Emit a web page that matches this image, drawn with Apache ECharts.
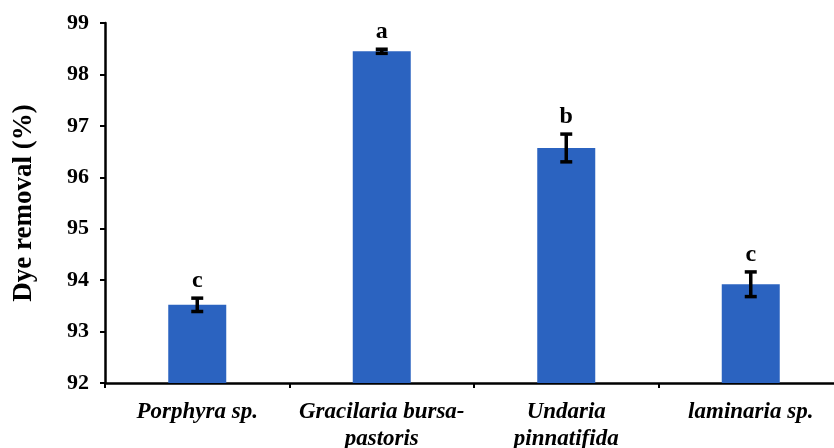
<!DOCTYPE html>
<html>
<head>
<meta charset="utf-8">
<script src="https://cdn.jsdelivr.net/npm/echarts@6/dist/echarts.min.js"></script>
<style>
  html, body { margin: 0; padding: 0; background: #fff; }
  #chart { width: 834px; height: 448px; }
</style>
</head>
<body>
<div id="chart"></div>
<script>
// Seaweed species tested as dye adsorbents
const species = ['Porphyra sp.', 'Gracilaria bursa-\npastoris', 'Undaria\npinnatifida', 'laminaria sp.'];
// Mean dye removal (%) and standard deviation
const removal = [93.52, 98.45, 96.57, 93.92];
const stdDev = [0.13, 0.04, 0.27, 0.24];
// Significance group letters
const groups = ['c', 'a', 'b', 'c'];
// Y-axis range
const yMin = 92, yMax = 99, yStep = 1;

const serif = '"Liberation Serif", "Times New Roman", serif';
const chart = echarts.init(document.getElementById('chart'));

const errData = removal.map((v, i) => [i, v, stdDev[i], groups[i]]);

chart.setOption({
  animation: false,
  grid: { left: 105, right: -9, top: 23, bottom: 65, containLabel: false, outerBoundsMode: 'none' },
  xAxis: {
    type: 'category',
    data: species,
    axisLine: { lineStyle: { color: '#000', width: 2.5 } },
    axisTick: { show: true, length: 5, lineStyle: { color: '#000', width: 2 }, alignWithLabel: false },
    axisLabel: {
      color: '#000', fontFamily: serif, fontSize: 23, fontWeight: 'bold',
      fontStyle: 'italic', margin: 16, lineHeight: 27, interval: 0
    }
  },
  yAxis: {
    type: 'value',
    min: yMin, max: yMax, interval: yStep,
    name: 'Dye removal (%)',
    nameLocation: 'middle',
    nameGap: 67,
    nameTextStyle: { color: '#000', fontFamily: serif, fontSize: 27, fontWeight: 'bold' },
    splitLine: { show: false },
    axisLine: { show: true, lineStyle: { color: '#000', width: 2.5 } },
    axisTick: { show: true, length: 5, lineStyle: { color: '#000', width: 2 } },
    axisLabel: { color: '#000', fontFamily: serif, fontSize: 22, fontWeight: 'bold', margin: 16 }
  },
  series: [
    {
      type: 'bar',
      data: removal,
      barWidth: 58,
      itemStyle: { color: '#2B63C0' },
      z: 2
    },
    {
      type: 'custom',
      data: errData,
      z: 5,
      renderItem: function (params, api) {
        const i = api.value(0), v = api.value(1), e = api.value(2);
        const top = api.coord([i, v + e]);
        const bot = api.coord([i, v - e]);
        const x = top[0];
        const cap = 6;
        const style = { stroke: '#000', lineWidth: 3.5 };
        return {
          type: 'group',
          children: [
            { type: 'line', shape: { x1: x, y1: top[1], x2: x, y2: bot[1] }, style: style },
            { type: 'line', shape: { x1: x - cap, y1: top[1], x2: x + cap, y2: top[1] }, style: style },
            { type: 'line', shape: { x1: x - cap, y1: bot[1], x2: x + cap, y2: bot[1] }, style: style },
            {
              type: 'text',
              style: {
                x: x, y: top[1] - 5,
                text: groups[params.dataIndex],
                fill: '#000',
                font: 'bold 24px ' + serif,
                align: 'center', verticalAlign: 'bottom'
              }
            }
          ]
        };
      }
    }
  ]
});
</script>
</body>
</html>
